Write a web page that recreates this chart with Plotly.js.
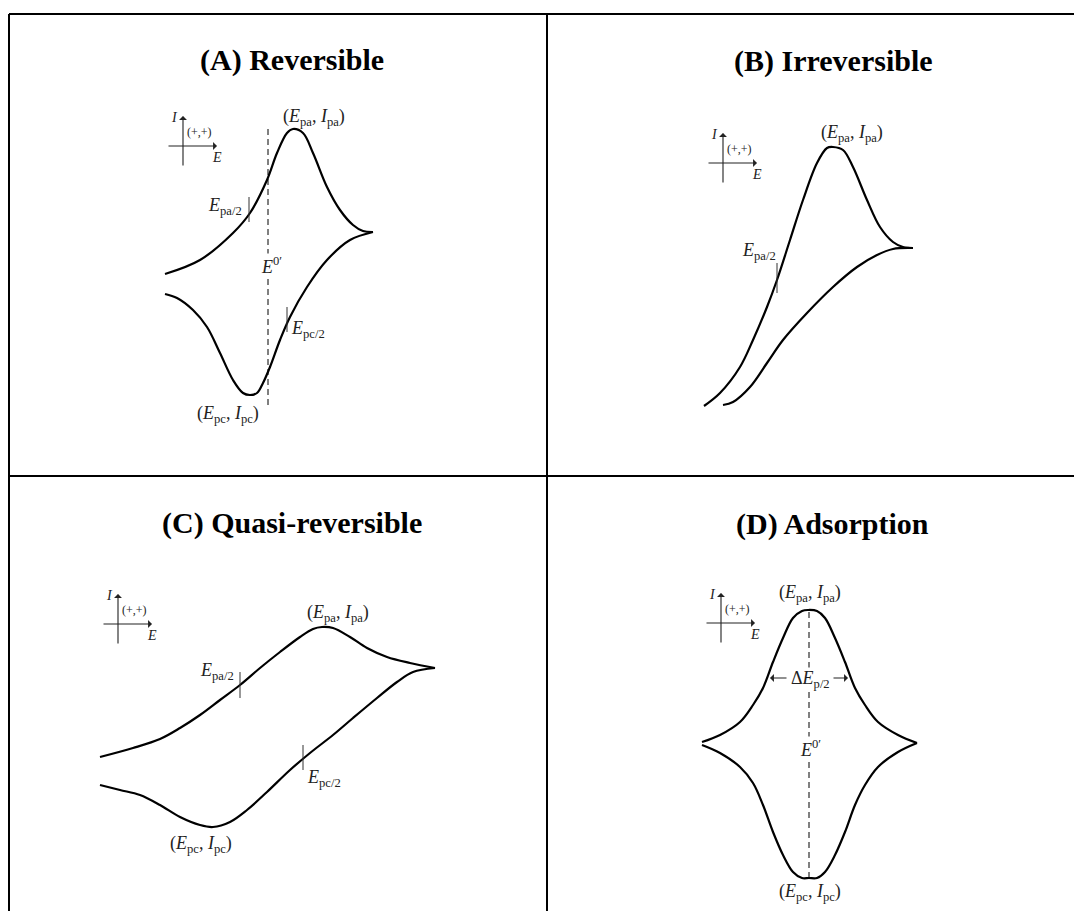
<!DOCTYPE html>
<html>
<head>
<meta charset="utf-8">
<script src="https://cdn.plot.ly/plotly-3.0.1.min.js"></script>
<style>
  html, body { margin: 0; padding: 0; background: #fff; }
  #chart { width: 1074px; height: 911px; }
</style>
</head>
<body>
<div id="chart"></div>
<script>
// ---- Cyclic voltammogram shapes (schematic E / I units, I positive upward) ----

// (A) Reversible
const revAnodicE   = [156, 191, 224, 241, 258, 268, 278, 284, 294, 304, 318, 331, 344, 354, 364];
const revAnodicI   = [202, 216, 243, 263, 296, 323, 343, 347, 343, 323, 289, 266, 251, 245, 244];
const revCathodicE = [364, 341, 318, 298, 281, 271, 261, 254, 248, 241, 234, 224, 211, 198, 184, 168, 156];
const revCathodicI = [244, 236, 216, 189, 159, 136, 109,  93,  83,  81,  83,  96, 123, 149, 166, 178, 182];
const revE0 = 259, revE0Span = [71, 349];
const revHalfPa = {e: 240, i: [254, 279]};
const revHalfPc = {e: 278, i: [144, 169]};

// (B) Irreversible
const irrAnodicE   = [157, 173, 193, 206, 220, 230, 243, 256, 270, 280, 286, 296, 306, 320, 333, 346, 356, 366];
const irrAnodicI   = [ 70,  83, 109, 136, 169, 196, 236, 276, 313, 328, 329, 326, 309, 276, 249, 234, 229, 228];
const irrReverseE  = [366, 346, 330, 310, 286, 260, 236, 220, 203, 186, 176];
const irrReverseI  = [228, 227, 221, 209, 189, 163, 136, 113,  89,  74,  71];
const irrHalfPa = {e: 230, i: [183, 213]};

// (C) Quasi-reversible
const quasiAnodicE   = [ 91, 124, 151, 171, 191, 211, 231, 251, 271, 291, 304, 313, 324, 341, 358, 378, 401, 426];
const quasiAnodicI   = [154, 163, 172, 183, 196, 211, 226, 243, 259, 274, 282, 284, 283, 274, 263, 254, 248, 243];
const quasiCathodicE = [426, 404, 388, 368, 344, 324, 301, 281, 258, 238, 221, 204, 191, 171, 151, 131, 111,  91];
const quasiCathodicI = [243, 239, 229, 213, 193, 176, 158, 141, 119, 101,  89,  84,  86,  94, 106, 116, 121, 126];
const quasiHalfPa = {e: 231, i: [213, 239]};
const quasiHalfPc = {e: 294, i: [141, 166]};

// (D) Adsorption
const adsAnodicE   = [155, 173, 193, 206, 216, 226, 236, 246, 255, 261, 270, 278, 288, 298, 308, 318, 331, 351, 370];
const adsAnodicI   = [169, 176, 189, 206, 223, 249, 273, 293, 300, 301, 300, 293, 273, 249, 223, 206, 189, 176, 168];
const adsCathodicE = [370, 351, 331, 318, 308, 298, 288, 278, 270, 262, 255, 246, 236, 226, 216, 206, 193, 173, 155];
const adsCathodicI = [168, 159, 144, 126, 106,  79,  56,  39,  33,  33,  33,  39,  56,  79, 106, 128, 144, 158, 166];
const adsE0 = 262, adsE0Span = [33, 301];
const adsHalfWidth = {e: [223, 301], i: 233};

// ---- Panel text ----
const panelTitles = ['(A) Reversible', '(B) Irreversible', '(C) Quasi-reversible', '(D) Adsorption'];
const peakAnodic  = '(<i>E</i><sub>pa</sub>, <i>I</i><sub>pa</sub>)';
const peakCathodic = '(<i>E</i><sub>pc</sub>, <i>I</i><sub>pc</sub>)';
const halfAnodic  = '<i>E</i><sub>pa/2</sub>';
const halfCathodic = '<i>E</i><sub>pc/2</sub>';
const formalPotential = '<i>E</i><sup>0′</sup>';
const halfWidthLabel = 'Δ<i>E</i><sub>p/2</sub>';

// ---- Page geometry (pixels) ----
const PW = 1074, PH = 911;
const gridLeft = 9, gridTop = 14, gridMidX = 547, gridMidY = 476;

const serif = 'Liberation Serif, Times New Roman, serif';
const ink = '#000';
const labelInk = '#222';
const LBL = 18;

const axisIds = ['', '2', '3', '4'];
const panelBox = [
  {x0: gridLeft, x1: gridMidX, y0: gridTop,  y1: gridMidY},
  {x0: gridMidX, x1: PW,       y0: gridTop,  y1: gridMidY},
  {x0: gridLeft, x1: gridMidX, y0: gridMidY, y1: PH},
  {x0: gridMidX, x1: PW,       y0: gridMidY, y1: PH}
];

const layout = {
  width: PW, height: PH,
  margin: {l: 0, r: 0, t: 0, b: 0},
  paper_bgcolor: '#fff', plot_bgcolor: 'rgba(0,0,0,0)',
  showlegend: false,
  annotations: [],
  shapes: []
};

panelBox.forEach((b, k) => {
  const id = axisIds[k];
  layout['xaxis' + id] = {
    domain: [b.x0 / PW, b.x1 / PW], range: [0, b.x1 - b.x0],
    showgrid: false, zeroline: false, showline: false, showticklabels: false, ticks: '',
    fixedrange: true, anchor: 'y' + id
  };
  layout['yaxis' + id] = {
    domain: [(PH - b.y1) / PH, (PH - b.y0) / PH], range: [0, b.y1 - b.y0],
    showgrid: false, zeroline: false, showline: false, showticklabels: false, ticks: '',
    fixedrange: true, anchor: 'x' + id
  };
});

const traces = [];
function curve(k, e, i, opts) {
  const id = axisIds[k];
  traces.push(Object.assign({
    type: 'scatter', mode: 'lines', x: e, y: i,
    xaxis: 'x' + id, yaxis: 'y' + id, hoverinfo: 'skip',
    line: {color: ink, width: 2.2, shape: 'spline', smoothing: 1}
  }, opts || {}));
}
function vline(k, e, span, dash, width, color) {
  curve(k, [e, e], span, {line: {color: color || ink, width: width || 1, dash: dash || 'solid'}});
}
function label(k, text, x, y, size, xanchor, extra) {
  const id = axisIds[k];
  layout.annotations.push(Object.assign({
    xref: 'x' + id, yref: 'y' + id, x: x, y: y, text: text, showarrow: false,
    xanchor: xanchor || 'center', yanchor: 'middle',
    font: {family: serif, size: size, color: labelInk}
  }, extra || {}));
}
function arrow(k, tail, head) {
  const id = axisIds[k];
  layout.annotations.push({
    xref: 'x' + id, yref: 'y' + id, axref: 'x' + id, ayref: 'y' + id,
    x: head[0], y: head[1], ax: tail[0], ay: tail[1], text: '',
    showarrow: true, arrowhead: 1, arrowsize: 1.2, arrowwidth: 1.1, arrowcolor: '#222'
  });
}
// small I–E orientation cross with (+,+) quadrant marker
function orientation(k, cx, cy) {
  arrow(k, [cx, cy - 21], [cx, cy + 30]);
  arrow(k, [cx - 16, cy], [cx + 34, cy]);
  label(k, '<i>I</i>', cx - 9, cy + 29, 14);
  label(k, '(+,+)', cx + 16, cy + 14, 12);
  label(k, '<i>E</i>', cx + 34, cy - 11, 14);
}

// (A)
curve(0, revAnodicE, revAnodicI);
curve(0, revCathodicE, revCathodicI);
vline(0, revE0, revE0Span, '6px,4px', 1);
vline(0, revHalfPa.e, revHalfPa.i, 'solid', 1, '#333');
vline(0, revHalfPc.e, revHalfPc.i, 'solid', 1, '#333');
label(0, peakAnodic, 305, 359, LBL);
label(0, peakCathodic, 219, 62, LBL);
label(0, halfAnodic, 235, 270, LBL, 'right');
label(0, halfCathodic, 280, 147, LBL, 'left');
label(0, formalPotential, 262, 211, LBL, 'center', {bgcolor: '#fff', borderpad: 0});
orientation(0, 174, 330);

// (B)
curve(1, irrAnodicE, irrAnodicI);
curve(1, irrReverseE, irrReverseI);
vline(1, irrHalfPa.e, irrHalfPa.i, 'solid', 1, '#333');
label(1, peakAnodic, 305, 343, LBL);
label(1, halfAnodic, 212, 225, LBL);
orientation(1, 176, 313);

// (C)
curve(2, quasiAnodicE, quasiAnodicI);
curve(2, quasiCathodicE, quasiCathodicI);
vline(2, quasiHalfPa.e, quasiHalfPa.i, 'solid', 1, '#333');
vline(2, quasiHalfPc.e, quasiHalfPc.i, 'solid', 1, '#333');
label(2, peakAnodic, 329, 298, LBL);
label(2, peakCathodic, 192, 67, LBL);
label(2, halfAnodic, 227, 240, LBL, 'right');
label(2, halfCathodic, 296, 133, LBL, 'left');
orientation(2, 109, 287);

// (D)
curve(3, adsAnodicE, adsAnodicI);
curve(3, adsCathodicE, adsCathodicI);
vline(3, adsE0, adsE0Span, '6px,4px', 1);
label(3, peakAnodic, 263, 318, LBL);
label(3, peakCathodic, 263, 19, LBL);
label(3, formalPotential, 263, 163, LBL, 'center', {bgcolor: '#fff', borderpad: 0});
label(3, halfWidthLabel, 263, 232, LBL, 'center', {bgcolor: '#fff', borderpad: 0});
arrow(3, [adsHalfWidth.e[0] + 18, adsHalfWidth.i], [adsHalfWidth.e[0], adsHalfWidth.i]);
arrow(3, [adsHalfWidth.e[1] - 16, adsHalfWidth.i], [adsHalfWidth.e[1], adsHalfWidth.i]);
orientation(3, 174, 288);

// panel titles
const titlePos = [[283, 416], [286, 415], [283, 388], [285, 387]];
panelTitles.forEach((t, k) => {
  label(k, '<b>' + t + '</b>', titlePos[k][0], titlePos[k][1], 30, 'center',
        {font: {family: serif, size: 30, color: '#000'}});
});

// table rules framing the four panels
const rule = {color: '#000', width: 2};
const px = v => v / PW, py = v => (PH - v) / PH;
layout.shapes.push(
  {type: 'line', xref: 'paper', yref: 'paper', x0: px(gridLeft), x1: 1, y0: py(gridTop), y1: py(gridTop), line: rule},
  {type: 'line', xref: 'paper', yref: 'paper', x0: px(gridLeft), x1: 1, y0: py(gridMidY), y1: py(gridMidY), line: rule},
  {type: 'line', xref: 'paper', yref: 'paper', x0: px(gridLeft), x1: px(gridLeft), y0: 0, y1: py(gridTop), line: rule},
  {type: 'line', xref: 'paper', yref: 'paper', x0: px(gridMidX), x1: px(gridMidX), y0: 0, y1: py(gridTop), line: rule}
);

Plotly.newPlot('chart', traces, layout, {staticPlot: true, displayModeBar: false});
</script>
</body>
</html>
